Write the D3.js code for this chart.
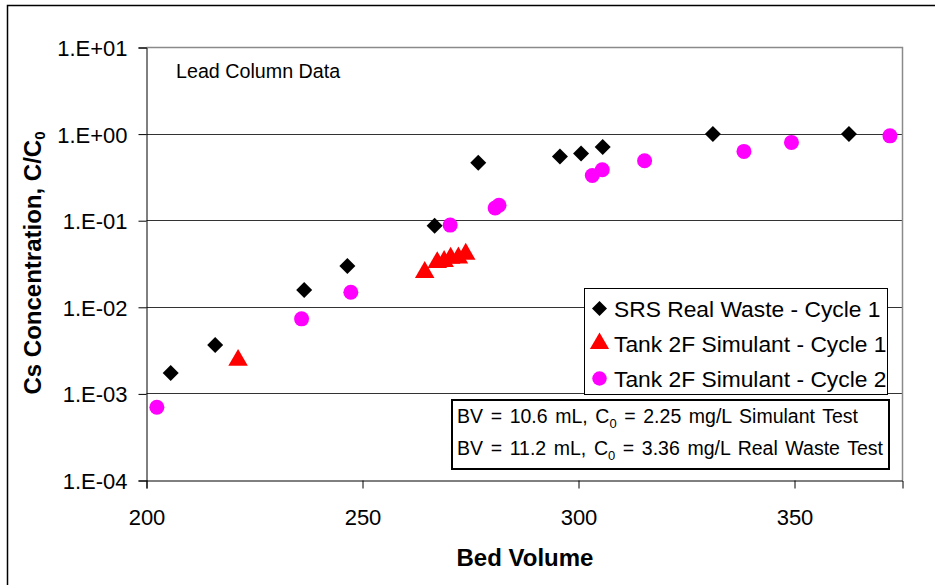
<!DOCTYPE html>
<meta charset="utf-8">
<script src="https://d3js.org/d3.v7.min.js"></script>
<style>
  body { margin: 0; background: #fff; }
  text { font-family: "Liberation Sans", Arial, sans-serif; }
</style>
<div id="chart"></div>
<script>

// data
var srsBV  = [205.6, 215.9, 236.5, 246.5, 266.7, 276.8, 295.7, 300.6, 305.6, 331.1, 362.6];
var srsC   = [0.00174, 0.00366, 0.0158, 0.030, 0.0873, 0.466, 0.552, 0.598, 0.708, 1.0, 1.0];

var sim1BV = [221.2, 264.4, 267.3, 268.9, 270.4, 272.2, 273.9];
var sim1C  = [0.00245, 0.0253, 0.033, 0.0339, 0.037, 0.0373, 0.0411];

var sim2BV = [202.4, 235.9, 247.3, 270.3, 280.7, 281.6, 303.2, 305.5, 315.3, 338.3, 349.3, 372.1];
var sim2C  = [0.0007, 0.00736, 0.0149, 0.089, 0.140, 0.151, 0.333, 0.387, 0.492, 0.631, 0.802, 0.955];

var xTicks = [200, 250, 300, 350];
var yTicks = [1e-4, 1e-3, 1e-2, 1e-1, 1, 10];
var yTickLabels = ["1.E-04", "1.E-03", "1.E-02", "1.E-01", "1.E+00", "1.E+01"];

var seriesNames = ["SRS Real Waste - Cycle 1", "Tank 2F Simulant - Cycle 1", "Tank 2F Simulant - Cycle 2"];

// set the dimensions and margins of the graph
var margin = {top: 47.5, left: 146.5},
    width = 756,
    height = 433;

var root = d3.select("#chart")
  .append("svg")
    .attr("width", 935)
    .attr("height", 585);

// outer chart frame (runs off the right and bottom)
root.append("rect")
  .attr("x", 7.5).attr("y", 5.5)
  .attr("width", 940).attr("height", 600)
  .attr("fill", "white")
  .attr("stroke", "black")
  .attr("stroke-width", 1.5);

var svg = root.append("g")
  .attr("transform", "translate(" + margin.left + "," + margin.top + ")");

var x = d3.scaleLinear().domain([200, 375]).range([0, width]);
var y = d3.scaleLog().domain([1e-4, 10]).range([height, 0]);

// gridlines
svg.selectAll("grid")
  .data(yTicks.slice(1, 5))
  .enter()
  .append("line")
    .attr("x1", 0)
    .attr("x2", width)
    .attr("y1", function(d) { return Math.round(y(d)); })
    .attr("y2", function(d) { return Math.round(y(d)); })
    .attr("stroke", "#333")
    .attr("stroke-width", 1);

// plot border: top and right grey
svg.append("path")
  .attr("d", "M0," + y(10) + "H" + width + "V" + height)
  .attr("fill", "none")
  .attr("stroke", "#8a8a8a")
  .attr("stroke-width", 1.5);

// Y axis
var yAxis = svg.append("g")
  .call(d3.axisLeft(y)
    .tickValues(yTicks)
    .tickSize(8)
    .tickPadding(11)
    .tickFormat(function(d, i) { return yTickLabels[i]; }));
yAxis.selectAll("text")
  .attr("dy", "0.36em")
  .style("font-size", "22px")
  .style("fill", "black")
  .style("font-family", "'Liberation Sans', Arial, sans-serif");
yAxis.select(".domain").attr("stroke", "black");

// X axis
var xAxis = svg.append("g")
  .attr("transform", "translate(0," + height + ")")
  .call(d3.axisBottom(x)
    .tickValues(xTicks)
    .tickSize(8)
    .tickPadding(21));
xAxis.selectAll("text")
  .style("font-size", "22px")
  .style("fill", "black")
  .style("font-family", "'Liberation Sans', Arial, sans-serif");
xAxis.select(".domain").attr("stroke", "black");

// axis titles
root.append("text")
  .attr("x", 525)
  .attr("y", 566)
  .attr("text-anchor", "middle")
  .style("font-size", "24px")
  .style("font-weight", "bold")
  .text("Bed Volume");

var yTitle = root.append("text")
  .attr("transform", "translate(41,263) rotate(-90)")
  .attr("text-anchor", "middle")
  .style("font-size", "24px")
  .style("font-weight", "bold");
yTitle.append("tspan").text("Cs Concentration, C/C");
yTitle.append("tspan").attr("dy", 4).style("font-size", "15px").text("0");

// annotation
root.append("text")
  .attr("x", 176)
  .attr("y", 78)
  .style("font-size", "19.7px")
  .text("Lead Column Data");

// Tank 2F Simulant - Cycle 2 (magenta circles)
svg.selectAll("sim2")
  .data(sim2BV)
  .enter()
  .append("circle")
    .attr("cx", function(d) { return x(d); })
    .attr("cy", function(d, i) { return y(sim2C[i]); })
    .attr("r", 7.5)
    .style("fill", "#ff00ff");

// Tank 2F Simulant - Cycle 1 (red triangles)
var tri = d3.symbol().type(d3.symbolTriangle).size(165);
svg.selectAll("sim1")
  .data(sim1BV)
  .enter()
  .append("path")
    .attr("d", tri)
    .attr("transform", function(d, i) { return "translate(" + x(d) + "," + y(sim1C[i]) + ")"; })
    .style("fill", "#ff0000");

// SRS Real Waste - Cycle 1 (black diamonds)
var diamond = "M0,-8L8,0L0,8L-8,0Z";
svg.selectAll("srs")
  .data(srsBV)
  .enter()
  .append("path")
    .attr("d", diamond)
    .attr("transform", function(d, i) { return "translate(" + x(d) + "," + y(srsC[i]) + ")"; })
    .style("fill", "black");

// legend
var legend = root.append("g");
legend.append("rect")
  .attr("x", 584.5).attr("y", 288.5)
  .attr("width", 303).attr("height", 106)
  .attr("fill", "white")
  .attr("stroke", "black")
  .attr("stroke-width", 1);

var rows = legend.selectAll("row")
  .data(seriesNames)
  .enter()
  .append("g")
    .attr("transform", function(d, i) { return "translate(599.5," + (308.5 + i * 35) + ")"; });

rows.append("path")
  .attr("d", function(d, i) {
    if (i == 0) return "M0,-7.5L7.5,0L0,7.5L-7.5,0Z";
    if (i == 1) return d3.symbol().type(d3.symbolTriangle).size(160)();
    return d3.symbol().type(d3.symbolCircle).size(165)();
  })
  .style("fill", function(d, i) { return ["black", "#ff0000", "#ff00ff"][i]; });

rows.append("text")
  .attr("x", 14.5)
  .attr("dy", "0.36em")
  .style("font-size", "22.8px")
  .text(function(d) { return d; });

// test conditions box
var note = root.append("g");
note.append("rect")
  .attr("x", 452).attr("y", 400)
  .attr("width", 437).attr("height", 69)
  .attr("fill", "white")
  .attr("stroke", "black")
  .attr("stroke-width", 2);

var noteLines = [
  ["BV = 10.6 mL, C", "0", " = 2.25 mg/L Simulant Test"],
  ["BV = 11.2 mL, C", "0", " = 3.36 mg/L Real Waste Test"]
];
noteLines.forEach(function(l, i) {
  var t = note.append("text")
    .attr("x", 457)
    .attr("y", 422.5 + i * 32)
    .style("font-size", "19.5px")
    .style("word-spacing", "2.2px");
  t.append("tspan").text(l[0]);
  t.append("tspan").attr("dy", 5).style("font-size", "13px").text(l[1]);
  t.append("tspan").attr("dy", -5).text(l[2]);
});

</script>
